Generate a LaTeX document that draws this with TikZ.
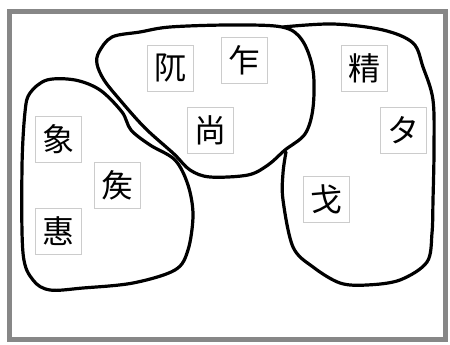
\documentclass[tikz,border=0pt]{standalone}
\usepackage{fontspec}
\newfontfamily\cjk{Noto Sans CJK SC}
\begin{document}
\begin{tikzpicture}[x=1pt,y=-1pt,
  glyph/.style={draw=black!20, line width=0.8pt, minimum width=46pt, minimum height=46pt, inner sep=0pt, font=\cjk\fontsize{32}{32}\selectfont, fill=white},
  blob/.style={draw=black, line width=3.2pt, line join=round, line cap=round},
  frame/.style={draw=black!47, line width=5pt}]
\useasboundingbox (0,0) rectangle (450,345);
\fill[white] (0,0) rectangle (450,345);
\draw[frame] (9.5,12) rectangle (445.5,339);
% top blob
\draw[blob] plot[smooth cycle, tension=0.55] coordinates {
  (99,52) (112,37) (140,32) (170,27) (230,25) (282,27) (302,40) (313,70) (313,108)
  (305,134) (285,150) (268,165) (248,175) (210,177) (190,170) (174,154)
  (145,128) (120,100) (104,80) (97,64)};
% left blob
\draw[blob] plot[smooth cycle, tension=0.55] coordinates {
  (30,93) (47,80) (75,80) (100,90) (122,112) (131,130) (150,145) (175,160)
  (188,185) (193,215) (188,250) (175,270) (133,283) (83,288) (50,290) (33,280)
  (23,253) (22,167) (25,112)};
% right blob
\draw[blob] plot[smooth, tension=0.55] coordinates {
  (283,27) (333,24) (383,30) (413,43) (423,67) (433,100) (434,150) (433,200)
  (432,233) (427,262) (400,280) (367,285) (340,283) (313,267) (293,247)
  (283,200) (283,173) (286,152)};
% glyphs
\node[glyph] (g1) at (170.5,68.5) {阢};
\node[glyph] (g2) at (244,60) {乍};
\node[glyph] (g3) at (210,130) {尚};
\node[glyph] (g4) at (364,68.5) {精};
\node[glyph] (g5) at (403.5,130) {タ};
\node[glyph] (g6) at (326,199.5) {戈};
\node[glyph] (g7) at (58,139) {象};
\node[glyph] (g8) at (117,185) {矦};
\node[glyph] (g9) at (58,231) {惠};
\end{tikzpicture}
\end{document}
